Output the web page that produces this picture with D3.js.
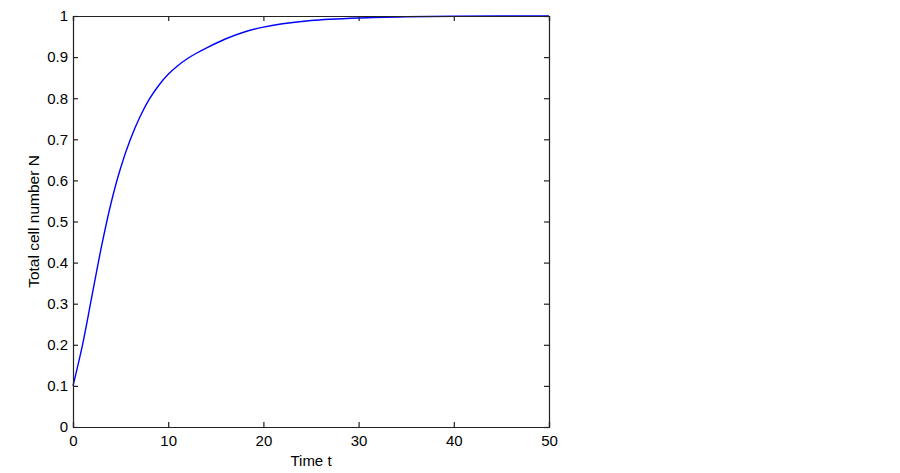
<!DOCTYPE html>
<html>
<head>
<meta charset="utf-8">
<script src="https://cdn.jsdelivr.net/npm/d3@7"></script>
<style>
  body { margin: 0; background: #fff; }
  text { font-family: "Liberation Sans", Arial, sans-serif; }
</style>
</head>
<body>
<div id="chart"></div>
<script>
  // values
  const timeValues = [0, 1, 2, 3, 4, 5, 6, 7, 8, 9, 10, 11, 12, 13, 14, 16, 18, 20, 22, 25, 30, 35, 40, 45, 50];
  const cellValues = [0.1, 0.2, 0.32, 0.44, 0.545, 0.63, 0.698, 0.753, 0.797, 0.831, 0.858, 0.879, 0.896, 0.91, 0.922, 0.944, 0.961, 0.973, 0.981, 0.989, 0.995, 0.998, 0.9995, 1.0, 1.0];
  const xTicks = [0, 10, 20, 30, 40, 50];
  const yTicks = [0, 0.1, 0.2, 0.3, 0.4, 0.5, 0.6, 0.7, 0.8, 0.9, 1];
  const xLabel = "Time t";
  const yLabel = "Total cell number N";

  const width = 900;
  const height = 473;
  const margin = { top: 16, right: 351, bottom: 46, left: 73 };
  const innerWidth = width - margin.left - margin.right;
  const innerHeight = height - margin.top - margin.bottom;

  const data = timeValues.map((t, i) => ({ t: t, n: cellValues[i] }));

  const svg = d3.select("#chart")
    .append("svg")
    .attr("width", width)
    .attr("height", height);

  const g = svg.append("g")
    .attr("transform", `translate(${margin.left},${margin.top})`);

  const xScale = d3.scaleLinear().domain([0, 50]).range([0, innerWidth]);
  const yScale = d3.scaleLinear().domain([0, 1]).range([innerHeight, 0]);

  const fmt = d3.format("~g");

  // curve
  const line = d3.line()
    .x((d) => xScale(d.t))
    .y((d) => yScale(d.n))
    .curve(d3.curveCatmullRom.alpha(0.5));

  g.append("path")
    .datum(data)
    .attr("fill", "none")
    .attr("stroke", "#0000ff")
    .attr("stroke-width", 1.4)
    .attr("d", line);

  // axes, ticks pointing inward on all four sides
  const axisB = g.append("g")
    .attr("transform", `translate(0,${innerHeight})`)
    .call(d3.axisBottom(xScale).tickValues(xTicks).tickSize(-5).tickPadding(8).tickFormat(fmt));
  const axisT = g.append("g")
    .call(d3.axisTop(xScale).tickValues(xTicks).tickSize(-5).tickFormat(""));
  const axisL = g.append("g")
    .call(d3.axisLeft(yScale).tickValues(yTicks).tickSize(-5).tickPadding(5).tickFormat(fmt));
  const axisR = g.append("g")
    .attr("transform", `translate(${innerWidth},0)`)
    .call(d3.axisRight(yScale).tickValues(yTicks).tickSize(-5).tickFormat(""));

  axisT.selectAll("text").remove();
  axisR.selectAll("text").remove();

  [axisB, axisT, axisL, axisR].forEach((a) => {
    a.select(".domain").attr("stroke", "#222").attr("stroke-width", 1.2);
    a.selectAll(".tick line").attr("stroke", "#222").attr("stroke-width", 1.2);
    a.selectAll("text").attr("font-size", 15).attr("fill", "#000")
      .style("font-family", "'Liberation Sans', Arial, sans-serif");
  });

  // axis labels
  g.append("text")
    .attr("x", innerWidth / 2)
    .attr("y", innerHeight + 39)
    .attr("text-anchor", "middle")
    .attr("font-size", 15)
    .text(xLabel);

  g.append("text")
    .attr("transform", `translate(${-34},${innerHeight / 2}) rotate(-90)`)
    .attr("text-anchor", "middle")
    .attr("font-size", 15.5)
    .text(yLabel);
</script>
</body>
</html>
